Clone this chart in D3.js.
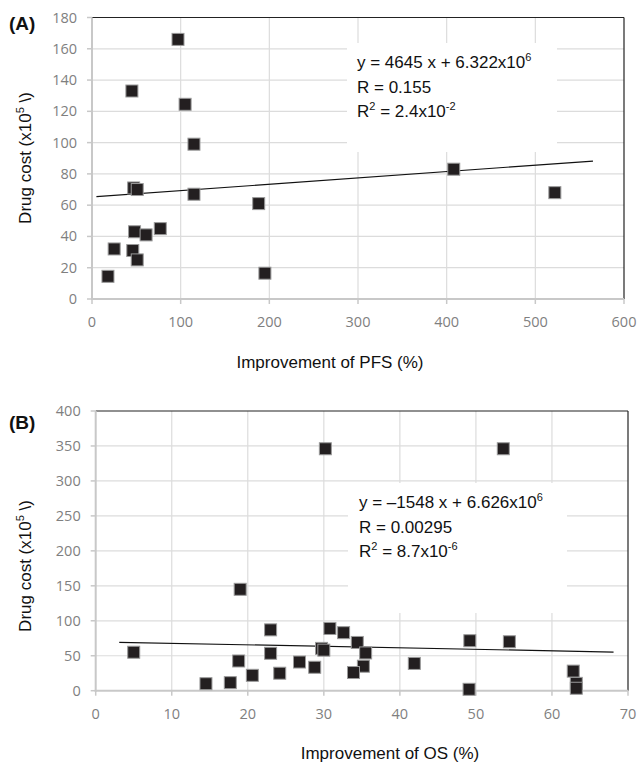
<!DOCTYPE html>
<html><head><meta charset="utf-8">
<script src="https://cdn.jsdelivr.net/npm/d3@7/dist/d3.min.js"></script>
<style>body{margin:0;background:#fff}svg{display:block}</style>
</head><body>
<svg id="c" width="638" height="763"></svg>
<script>
// Panel A data: Improvement of PFS (%) vs Drug cost (x10^5)
const pfsX = [97, 45, 105, 115, 47, 51, 115, 188, 48, 61, 77, 25, 46, 51, 18, 195, 408, 522];
const pfsY = [166, 133, 124.5, 99, 71, 70, 67, 61, 43, 41, 45, 32, 31, 25, 14.5, 16.5, 83, 68];
const trendA = [[5, 65.4], [565, 88.2]];
const xTicksA = [0, 100, 200, 300, 400, 500, 600];
const yTicksA = [0, 20, 40, 60, 80, 100, 120, 140, 160, 180];
const eqA = ["y = 4645 x + 6.322x10", "6", "R = 0.155", "R", "2", " = 2.4x10", "-2"];

// Panel B data: Improvement of OS (%) vs Drug cost (x10^5)
const osX = [30.2, 53.6, 19, 5, 23, 23, 18.8, 20.6, 24.2, 14.5, 17.7, 26.8, 28.8, 29.7, 30.0, 30.8, 32.6, 34.4, 35.5, 35.2, 33.9, 41.9, 49.2, 54.4, 49.1, 62.8, 63.2, 63.2];
const osY = [346, 346, 145, 55, 87, 53.5, 42.5, 22, 25, 10, 11.5, 41, 33.5, 60.5, 58, 89, 83, 69, 54, 35, 26, 39, 71.5, 70, 2, 28, 10.5, 3.5];
const trendB = [[3.1, 69.2], [68.1, 55.3]];
const xTicksB = [0, 10, 20, 30, 40, 50, 60, 70];
const yTicksB = [0, 50, 100, 150, 200, 250, 300, 350, 400];
const eqB = ["y = \u20131548 x + 6.626x10", "6", "R = 0.00295", "R", "2", " = 8.7x10", "-6"];

const svg = d3.select("#c");
const tickFont = "'Open Sans', sans-serif";
const textFont = "'Liberation Sans', Arial, sans-serif";

function panel(o) {
  const g = svg.append("g");
  const x = d3.scaleLinear().domain(o.xd).range(o.xr);
  const y = d3.scaleLinear().domain(o.yd).range(o.yr);
  const [x0, x1] = o.xr, [y0, y1] = o.yr; // y0 bottom, y1 top
  // gridlines
  g.selectAll(".gx").data(o.xt.slice(1, -1)).join("line")
    .attr("x1", d => x(d)).attr("x2", d => x(d)).attr("y1", y1).attr("y2", y0)
    .attr("stroke", "#dcdcdc").attr("stroke-width", 1.2);
  g.selectAll(".gy").data(o.yt.slice(1, -1)).join("line")
    .attr("x1", x0).attr("x2", x1).attr("y1", d => y(d)).attr("y2", d => y(d))
    .attr("stroke", "#dcdcdc").attr("stroke-width", 1.2);
  // annotation box (covers gridlines)
  g.append("rect").attr("x", o.box[0]).attr("y", o.box[1]).attr("width", o.box[2]).attr("height", o.box[3]).attr("fill", "#fff");
  // frame: top/right black, left/bottom gray
  g.append("line").attr("x1", x0).attr("x2", x1).attr("y1", y1).attr("y2", y1).attr("stroke", "#222").attr("stroke-width", 1.2);
  g.append("line").attr("x1", x1).attr("x2", x1).attr("y1", y1).attr("y2", y0).attr("stroke", "#222").attr("stroke-width", 1.2);
  g.append("line").attr("x1", x0).attr("x2", x0).attr("y1", y1).attr("y2", y0 + 1).attr("stroke", "#c8c8c8").attr("stroke-width", 2);
  g.append("line").attr("x1", x0 - 1).attr("x2", x1).attr("y1", y0).attr("y2", y0).attr("stroke", "#c8c8c8").attr("stroke-width", 2);
  // ticks
  g.selectAll(".tx").data(o.xt).join("line")
    .attr("x1", d => x(d)).attr("x2", d => x(d)).attr("y1", y0).attr("y2", y0 + 5)
    .attr("stroke", "#c8c8c8").attr("stroke-width", 1.5);
  g.selectAll(".ty").data(o.yt).join("line")
    .attr("x1", x0 - 5).attr("x2", x0).attr("y1", d => y(d)).attr("y2", d => y(d))
    .attr("stroke", "#c8c8c8").attr("stroke-width", 1.5);
  // tick labels
  g.selectAll(".lx").data(o.xt).join("text")
    .attr("x", d => x(d)).attr("y", y0 + 28).attr("text-anchor", "middle")
    .attr("font-family", tickFont).attr("font-size", 14.5).attr("fill", "#7f7f7f").text(d => d);
  g.selectAll(".ly").data(o.yt).join("text")
    .attr("x", x0 - 15).attr("y", d => y(d) + 5).attr("text-anchor", "end")
    .attr("font-family", tickFont).attr("font-size", 14.5).attr("fill", "#7f7f7f").text(d => d);
  // trend line
  g.append("line").attr("x1", x(o.trend[0][0])).attr("y1", y(o.trend[0][1]))
    .attr("x2", x(o.trend[1][0])).attr("y2", y(o.trend[1][1]))
    .attr("stroke", "#111").attr("stroke-width", 1.2);
  // markers
  const s = 12;
  g.selectAll(".pt").data(o.px.map((d, i) => [d, o.py[i]])).join("rect")
    .attr("x", d => x(d[0]) - s / 2).attr("y", d => y(d[1]) - s / 2)
    .attr("width", s).attr("height", s)
    .attr("fill", "#231f20").attr("stroke", "#9a9a9a").attr("stroke-width", 1);
  // equation text
  const t = g.append("g").attr("font-family", textFont).attr("font-size", 17).attr("fill", "#111");
  const l1 = t.append("text").attr("x", o.eqx).attr("y", o.eqy[0]);
  l1.append("tspan").text(o.eq[0]);
  l1.append("tspan").attr("font-size", 11).attr("dy", -7).text(o.eq[1]);
  t.append("text").attr("x", o.eqx).attr("y", o.eqy[1]).text(o.eq[2]);
  const l3 = t.append("text").attr("x", o.eqx).attr("y", o.eqy[2]);
  l3.append("tspan").text(o.eq[3]);
  l3.append("tspan").attr("font-size", 11).attr("dy", -7).text(o.eq[4]);
  l3.append("tspan").attr("dy", 7).text(o.eq[5]);
  l3.append("tspan").attr("font-size", 11).attr("dy", -7).text(o.eq[6]);
  // panel label
  g.append("text").attr("x", 9).attr("y", o.labY).attr("font-family", textFont)
    .attr("font-weight", "bold").attr("font-size", 19).attr("fill", "#111").text(o.label);
  // y title
  const yt = g.append("text").attr("transform", `translate(31,${o.ytC}) rotate(-90)`)
    .attr("text-anchor", "middle").attr("font-family", textFont).attr("font-size", 17).attr("fill", "#111");
  yt.append("tspan").text("Drug cost (x10");
  yt.append("tspan").attr("font-size", 11).attr("dy", -7).text("5");
  yt.append("tspan").attr("dy", 7).text(" \\)");
  // x title
  g.append("text").attr("x", o.xtX).attr("y", o.xtY).attr("text-anchor", "middle")
    .attr("font-family", textFont).attr("font-size", 17).attr("fill", "#111").text(o.xtitle);
}

panel({
  xd: [0, 600], xr: [92, 624], yd: [0, 180], yr: [299, 17.5],
  xt: xTicksA, yt: yTicksA, px: pfsX, py: pfsY, trend: trendA,
  box: [347, 43, 210, 109], eq: eqA, eqx: 357, eqy: [68, 93, 117],
  label: "(A)", labY: 30, ytC: 158, xtitle: "Improvement of PFS (%)", xtX: 330, xtY: 368
});
panel({
  xd: [0, 70], xr: [95.7, 628], yd: [0, 400], yr: [690.7, 411],
  xt: xTicksB, yt: yTicksB, px: osX, py: osY, trend: trendB,
  box: [348, 483, 219, 130], eq: eqB, eqx: 359, eqy: [508, 533, 557],
  label: "(B)", labY: 429, ytC: 566, xtitle: "Improvement of OS (%)", xtX: 390, xtY: 759
});
</script>
</body></html>
